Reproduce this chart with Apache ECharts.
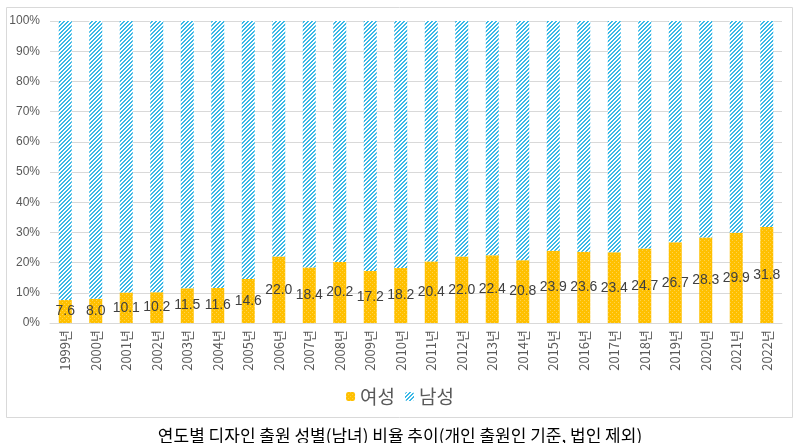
<!DOCTYPE html>
<html>
<head>
<meta charset="utf-8">
<script src="https://cdn.jsdelivr.net/npm/echarts@6/dist/echarts.min.js"></script>
<style>
  html, body { margin: 0; padding: 0; background: #fff; }
  #chart { width: 800px; height: 443px; }
</style>
</head>
<body>
<div id="chart"></div>
<script>
// 연도별 디자인 출원 성별 비율 (%)
var years = ['1999년', '2000년', '2001년', '2002년', '2003년', '2004년', '2005년', '2006년',
    '2007년', '2008년', '2009년', '2010년', '2011년', '2012년', '2013년', '2014년',
    '2015년', '2016년', '2017년', '2018년', '2019년', '2020년', '2021년', '2022년'];
var female = [7.6, 8.0, 10.1, 10.2, 11.5, 11.6, 14.6, 22.0, 18.4, 20.2, 17.2, 18.2,
    20.4, 22.0, 22.4, 20.8, 23.9, 23.6, 23.4, 24.7, 26.7, 28.3, 29.9, 31.8];
var male = [92.4, 92.0, 89.9, 89.8, 88.5, 88.4, 85.4, 78.0, 81.6, 79.8, 82.8, 81.8,
    79.6, 78.0, 77.6, 79.2, 76.1, 76.4, 76.6, 75.3, 73.3, 71.7, 70.1, 68.2];
var seriesNames = ['여성', '남성'];
var caption = '연도별 디자인 출원 성별(남녀) 비율 추이(개인 출원인 기준, 법인 제외)';

// hatch fills, like the excel pattern fills
function makePattern(size, fn) {
    var c = document.createElement('canvas');
    c.width = size;
    c.height = size;
    var ctx = c.getContext('2d');
    for (var x = 0; x < size; x++) {
        for (var y = 0; y < size; y++) {
            ctx.fillStyle = fn(x, y);
            ctx.fillRect(x, y, 1, 1);
        }
    }
    return c;
}
var stripes = makePattern(8, function (x, y) {
    return ((x + y) % 4) < 2 ? '#3ab8e6' : '#ffffff';
});
var dots = makePattern(8, function (x, y) {
    return (x % 4 === 0 && y % 4 === 0) || (x % 4 === 2 && y % 4 === 2) ? '#ffd34d' : '#ffc000';
});

var chart = echarts.init(document.getElementById('chart'), null, {renderer: 'canvas'});

var options = {
    animation: false,
    textStyle: {fontFamily: '"Noto Sans CJK KR", sans-serif'},
    title: {
        text: caption,
        left: 'center',
        top: 422,
        textStyle: {fontSize: 17, fontWeight: 'normal', color: '#000',
            fontFamily: '"Noto Sans CJK KR", sans-serif'}
    },
    graphic: [{
        type: 'rect',
        shape: {x: 6.5, y: 7.5, width: 786, height: 410},
        style: {fill: 'none', stroke: '#d9d9d9', lineWidth: 1},
        silent: true
    }],
    legend: {
        data: seriesNames,
        left: 'center',
        top: 382,
        itemWidth: 9,
        itemHeight: 9,
        itemGap: 10,
        textStyle: {fontSize: 19, color: '#595959'}
    },
    grid: {left: 50, right: 18, top: 21, bottom: 120},
    xAxis: {
        type: 'category',
        data: years,
        axisTick: {show: false},
        axisLine: {lineStyle: {color: '#d9d9d9'}},
        axisLabel: {rotate: 90, fontSize: 13, color: '#595959', margin: 7,
            fontFamily: '"Noto Sans CJK KR", sans-serif'}
    },
    yAxis: {
        type: 'value',
        min: 0,
        max: 100,
        interval: 10,
        axisLabel: {formatter: '{value}%', fontSize: 12, color: '#595959', margin: 10,
            fontFamily: '"Liberation Sans", sans-serif'},
        axisLine: {show: false},
        axisTick: {show: false},
        splitLine: {lineStyle: {color: '#d9d9d9'}}
    },
    series: [
        {
            name: seriesNames[0],
            type: 'bar',
            stack: 'total',
            barWidth: 13,
            data: female,
            itemStyle: {color: {image: dots, repetition: 'repeat'}},
            label: {
                show: true,
                position: 'inside',
                color: '#404040',
                fontSize: 14,
                fontFamily: '"Liberation Sans", sans-serif',
                formatter: function (p) { return p.value.toFixed(1); }
            }
        },
        {
            name: seriesNames[1],
            type: 'bar',
            stack: 'total',
            barWidth: 13,
            data: male,
            itemStyle: {color: {image: stripes, repetition: 'repeat'}}
        }
    ]
};

chart.setOption(options);
</script>
</body>
</html>
